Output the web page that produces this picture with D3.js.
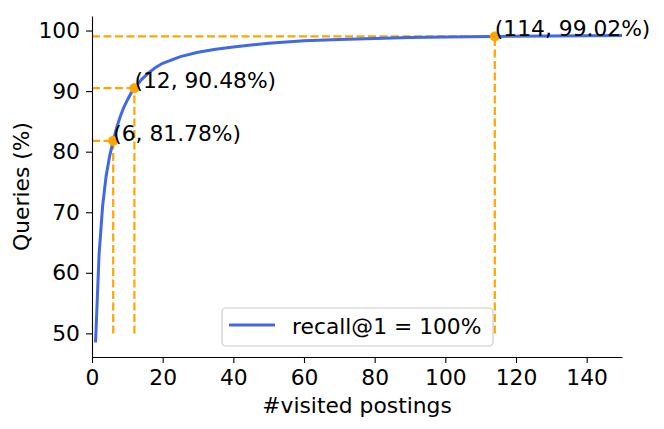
<!DOCTYPE html>
<html>
<head>
<meta charset="utf-8">
<script src="https://cdn.jsdelivr.net/npm/d3@7"></script>
<style>
  body { margin: 0; background: #fff; }
  text { font-family: "DejaVu Sans", sans-serif; fill: #000; }
</style>
</head>
<body>
<svg width="664" height="429"></svg>
<script>
// visited postings vs. share of queries reaching recall@1 = 100%
var visited = [1, 2, 3, 4, 5, 6, 7, 8, 9, 10, 11, 12, 14, 16, 18, 20, 25, 30, 35, 40, 45, 50, 55, 60, 70, 80, 90, 100, 114, 130, 150];
var queries = [48.5, 63, 71, 76, 79.3, 81.78, 84, 85.8, 87.3, 88.5, 89.6, 90.48, 91.9, 93.0, 93.9, 94.6, 95.7, 96.4, 96.9, 97.3, 97.6, 97.9, 98.1, 98.3, 98.5, 98.7, 98.85, 98.95, 99.02, 99.1, 99.2];
var marked = [6, 12, 114];
var markedVal = [81.78, 90.48, 99.02];
var xTicks = [0, 20, 40, 60, 80, 100, 120, 140];
var yTicks = [50, 60, 70, 80, 90, 100];
var legendLabel = "recall@1 = 100%";

var svg = d3.select("svg");
var fs = 21.8;
var pLeft = 92, pRight = 622, pTop = 16, pBottom = 357;

var x = d3.scaleLinear().domain([0, 150]).range([pLeft, pRight]);
var y = d3.scaleLinear().domain([46.1, 102.4]).range([pBottom, pTop]);

// dashed guide lines
for (var i = 0; i < marked.length; i++) {
    svg.append("line")
        .attr("x1", x(0)).attr("x2", x(marked[i]))
        .attr("y1", y(markedVal[i])).attr("y2", y(markedVal[i]))
        .attr("stroke", "orange").attr("stroke-width", 2.2)
        .attr("stroke-dasharray", "8,3.5");
    svg.append("line")
        .attr("x1", x(marked[i])).attr("x2", x(marked[i]))
        .attr("y1", y(50)).attr("y2", y(markedVal[i]))
        .attr("stroke", "orange").attr("stroke-width", 2.2)
        .attr("stroke-dasharray", "8,3.5");
}

var line = d3.line()
    .x(function(d, i) { return x(visited[i]); })
    .y(function(d) { return y(d); });

svg.append("path")
    .datum(queries)
    .attr("d", line)
    .attr("fill", "none")
    .attr("stroke", "royalblue")
    .attr("stroke-width", 3);

for (var j = 0; j < marked.length; j++) {
    svg.append("circle")
        .attr("cx", x(marked[j]))
        .attr("cy", y(markedVal[j]))
        .attr("r", 5)
        .attr("fill", "orange");
    svg.append("text")
        .attr("x", x(marked[j]))
        .attr("y", y(markedVal[j]))
        .attr("font-size", fs)
        .text("(" + marked[j] + ", " + markedVal[j].toFixed(2) + "%)");
}

// axes
var xAxis = svg.append("g")
    .attr("transform", "translate(0," + pBottom + ")")
    .call(d3.axisBottom(x).tickValues(xTicks).tickSize(6).tickPadding(7).tickSizeOuter(0));
var yAxis = svg.append("g")
    .attr("transform", "translate(" + pLeft + ",0)")
    .call(d3.axisLeft(y).tickValues(yTicks).tickSize(6).tickPadding(6).tickSizeOuter(0));

[xAxis, yAxis].forEach(function(a) {
    a.selectAll("text").attr("font-size", fs).attr("font-family", "DejaVu Sans").attr("fill", "#000");
    a.selectAll("line").attr("stroke", "#000").attr("stroke-width", 1.1);
    a.select(".domain").attr("stroke", "#000").attr("stroke-width", 1.1);
});

svg.append("text")
    .attr("x", (pLeft + pRight) / 2)
    .attr("y", 413)
    .attr("text-anchor", "middle")
    .attr("font-size", fs)
    .text("#visited postings");

svg.append("text")
    .attr("transform", "translate(29," + (pTop + pBottom) / 2 + ") rotate(-90)")
    .attr("text-anchor", "middle")
    .attr("font-size", fs)
    .text("Queries (%)");

// legend
var lg = svg.append("g");
lg.append("rect")
    .attr("x", 222).attr("y", 308)
    .attr("width", 271).attr("height", 38)
    .attr("rx", 4)
    .attr("fill", "#fff").attr("fill-opacity", 0.8)
    .attr("stroke", "#ccc").attr("stroke-width", 1.2);
lg.append("line")
    .attr("x1", 229).attr("x2", 275)
    .attr("y1", 325).attr("y2", 325)
    .attr("stroke", "royalblue").attr("stroke-width", 3);
lg.append("text")
    .attr("x", 292).attr("y", 334)
    .attr("font-size", fs)
    .text(legendLabel);
</script>
</body>
</html>
